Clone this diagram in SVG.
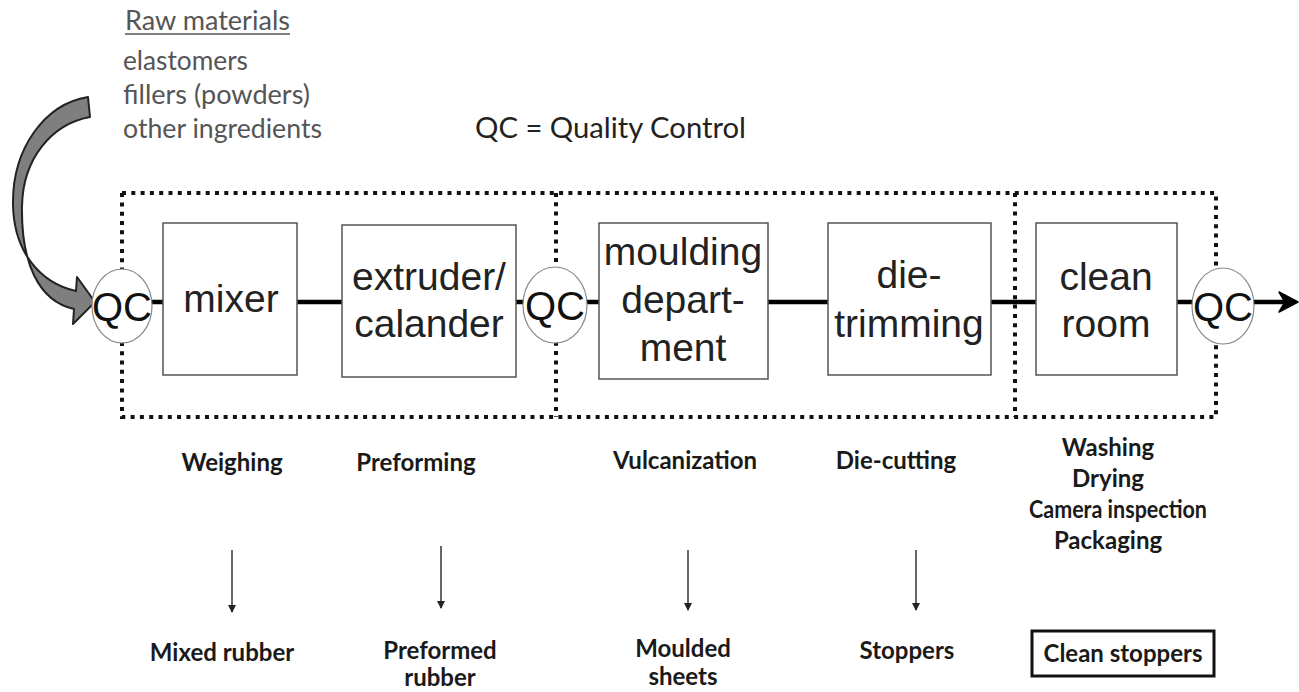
<svg xmlns="http://www.w3.org/2000/svg" width="1299" height="692" viewBox="0 0 1299 692">
<defs>
<style>
.bg{fill:#ffffff}
.dot{fill:none;stroke:#111;stroke-width:4;stroke-dasharray:4 5.3}
.box{fill:#ffffff;stroke:#555;stroke-width:1.5}
.qc{fill:#ffffff;stroke:#888;stroke-width:1.2}
.lbl{font-family:"Liberation Sans",Arial,sans-serif;font-size:39px;fill:#222;text-anchor:middle}
.qct{font-family:"Liberation Sans",Arial,sans-serif;font-size:40px;fill:#111;text-anchor:middle}
.main{stroke:#000;stroke-width:4.5;fill:none}
.raw{font-family:Lato,"Open Sans",sans-serif;font-size:26px;fill:#555}
.step{font-family:Lato,"Open Sans",sans-serif;font-size:24px;font-weight:bold;fill:#1a1a1a;text-anchor:middle}
.down{stroke:#333;stroke-width:1.5;fill:none;marker-end:url(#ah)}
</style>
<marker id="ah" markerWidth="8" markerHeight="8" refX="7" refY="4" orient="auto" markerUnits="userSpaceOnUse">
<path d="M0,0 L8,4 L0,8 Z" fill="#222"/>
</marker>
</defs>
<rect class="bg" width="1299" height="692"/>

<g id="raw-materials">
<text class="raw" x="125" y="30" textLength="165" lengthAdjust="spacingAndGlyphs">Raw materials</text>
<line x1="125" y1="34" x2="290" y2="34" stroke="#555" stroke-width="1.3"/>
<text class="raw" x="123" y="70" textLength="125" lengthAdjust="spacingAndGlyphs">elastomers</text>
<text class="raw" x="123" y="104" textLength="187" lengthAdjust="spacingAndGlyphs">fillers (powders)</text>
<text class="raw" x="123" y="138" textLength="199" lengthAdjust="spacingAndGlyphs">other ingredients</text>
</g>

<g id="legend">
<text x="475" y="138" textLength="271" lengthAdjust="spacingAndGlyphs" style="font-family:Lato,'Open Sans',sans-serif;font-size:29px;fill:#222">QC = Quality Control</text>
</g>

<g id="sections">
<path class="dot" d="M122,193 H1216 V417 H122 Z"/>
<line class="dot" x1="556" y1="193" x2="556" y2="417"/>
<line class="dot" x1="1015" y1="193" x2="1015" y2="417"/>
</g>

<g id="connectors">
<path d="M88,97 C45,104 12,148 13,205 C14,252 40,283 76,291 L77,277 L95,302 L73,324 L74,309 C38,301 21,262 22,206 C23,158 52,124 90,117 Z" fill="#7f7f7f" stroke="#222" stroke-width="2" stroke-linejoin="round"/>
<line class="main" x1="150" y1="302" x2="163" y2="302"/>
<line class="main" x1="297" y1="302" x2="342" y2="302"/>
<line class="main" x1="516" y1="302" x2="525" y2="302"/>
<line class="main" x1="585" y1="302" x2="599" y2="302"/>
<line class="main" x1="768" y1="302" x2="828" y2="302"/>
<line class="main" x1="991" y1="302" x2="1036" y2="302"/>
<line class="main" x1="1177" y1="302" x2="1194" y2="302"/>
<line class="main" x1="1252" y1="302" x2="1286" y2="302"/>
<path d="M1298,302 L1279,292 L1285,302 L1279,312 Z" fill="#000" stroke="#000" stroke-width="1.5" stroke-linejoin="round"/>
<line class="down" x1="232" y1="550" x2="232" y2="612"/>
<line class="down" x1="441" y1="546" x2="441" y2="608"/>
<line class="down" x1="688" y1="550" x2="688" y2="610"/>
<line class="down" x1="916" y1="550" x2="916" y2="610"/>
</g>

<g id="qc1"><ellipse class="qc" cx="122" cy="306" rx="30" ry="37"/><text class="qct" x="122" y="321">QC</text></g>
<g id="mixer"><rect class="box" x="163" y="223" width="134" height="152"/><text class="lbl" x="231" y="312">mixer</text></g>
<g id="extruder"><rect class="box" x="342" y="225" width="174" height="152"/><text class="lbl" x="429" y="290">extruder/</text><text class="lbl" x="429" y="337">calander</text></g>
<g id="qc2"><ellipse class="qc" cx="555" cy="305" rx="32" ry="38"/><text class="qct" x="555" y="320">QC</text></g>
<g id="moulding"><rect class="box" x="599" y="223" width="169" height="156"/><text class="lbl" x="683" y="265">moulding</text><text class="lbl" x="683" y="313">depart-</text><text class="lbl" x="683" y="361">ment</text></g>
<g id="die-trimming"><rect class="box" x="828" y="223" width="163" height="152"/><text class="lbl" x="909" y="288">die-</text><text class="lbl" x="909" y="337">trimming</text></g>
<g id="clean-room"><rect class="box" x="1036" y="223" width="141" height="152"/><text class="lbl" x="1106" y="290">clean</text><text class="lbl" x="1106" y="337">room</text></g>
<g id="qc3"><ellipse class="qc" cx="1223" cy="306" rx="31" ry="38"/><text class="qct" x="1223" y="321">QC</text></g>

<g id="steps">
<text class="step" x="232" y="471">Weighing</text>
<text class="step" x="416" y="471">Preforming</text>
<text class="step" x="685" y="469">Vulcanization</text>
<text class="step" x="896" y="469">Die-cutting</text>
<text class="step" x="1108" y="456">Washing</text>
<text class="step" x="1108" y="487">Drying</text>
<text class="step" x="1118" y="518" textLength="178" lengthAdjust="spacingAndGlyphs">Camera inspection</text>
<text class="step" x="1108" y="549">Packaging</text>
</g>

<g id="products">
<text class="step" x="222" y="661">Mixed rubber</text>
<text class="step" x="440" y="659">Preformed</text>
<text class="step" x="440" y="686">rubber</text>
<text class="step" x="683" y="657">Moulded</text>
<text class="step" x="683" y="685">sheets</text>
<text class="step" x="907" y="659">Stoppers</text>
<g id="clean-stoppers"><rect x="1032" y="631" width="182" height="45" fill="#fff" stroke="#111" stroke-width="3"/><text class="step" x="1123" y="662">Clean stoppers</text></g>
</g>
</svg>
